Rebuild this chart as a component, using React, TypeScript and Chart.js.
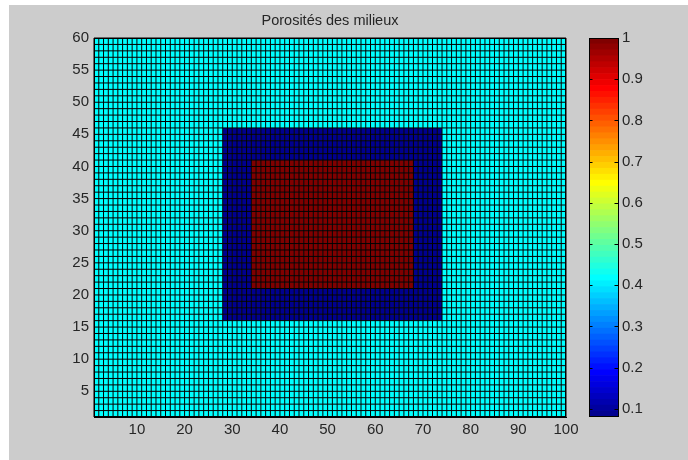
import React, { useEffect, useRef } from 'react';
import { Chart, registerables } from 'chart.js';

Chart.register(...registerables);

// ---------- data ----------
const TITLE = 'Porosités des milieux';
const X_MIN = 1;
const X_MAX = 100;
const Y_MIN = 1;
const Y_MAX = 60;
const xTicks = [10, 20, 30, 40, 50, 60, 70, 80, 90, 100];
const yTicks = [5, 10, 15, 20, 25, 30, 35, 40, 45, 50, 55, 60];

// rectangular zones (later zones overwrite earlier ones)
const zoneNames = ['milieu extérieur', 'couche', 'noyau'];
const zoneX0 = [1, 28, 34];
const zoneX1 = [100, 74, 68];
const zoneY0 = [1, 16, 21];
const zoneY1 = [60, 46, 41];
const zonePorosity = [0.42, 0.08, 1.0];

// colour axis
const C_MIN = 0.08;
const C_MAX = 1.0;
const colorTicks = [0.1, 0.2, 0.3, 0.4, 0.5, 0.6, 0.7, 0.8, 0.9, 1.0];
const N_COLORS = 64;

// ---------- helpers ----------
function jet(m: number): string[] {
  const n = Math.ceil(m / 4);
  const u: number[] = [];
  for (let k = 1; k <= n; k++) u.push(k / n);
  for (let k = 1; k <= n - 1; k++) u.push(1);
  for (let k = n; k >= 1; k--) u.push(k / n);
  const off = Math.ceil(n / 2) - (m % 4 === 1 ? 1 : 0);
  const rgb: number[][] = [];
  for (let i = 0; i < m; i++) rgb.push([0, 0, 0]);
  for (let k = 0; k < u.length; k++) {
    const g = off + k + 1;
    const r = g + n;
    const b = g - n;
    if (r >= 1 && r <= m) rgb[r - 1][0] = u[k];
    if (g >= 1 && g <= m) rgb[g - 1][1] = u[k];
    if (b >= 1 && b <= m) rgb[b - 1][2] = u[k];
  }
  return rgb.map(
    (c) => `rgb(${Math.round(c[0] * 255)},${Math.round(c[1] * 255)},${Math.round(c[2] * 255)})`
  );
}
const JET = jet(N_COLORS);

function colorFor(v: number): string {
  let idx = Math.floor(((v - C_MIN) / (C_MAX - C_MIN)) * N_COLORS);
  idx = Math.max(0, Math.min(N_COLORS - 1, idx));
  return JET[idx];
}

function cellValue(i: number, j: number): number {
  let v = zonePorosity[0];
  for (let z = 0; z < zoneNames.length; z++) {
    if (i >= zoneX0[z] && i < zoneX1[z] && j >= zoneY0[z] && j < zoneY1[z]) v = zonePorosity[z];
  }
  return v;
}

const FONT = "'Liberation Sans', Arial, Helvetica, sans-serif";
const TEXT = '#262626';

const heatmapPlugin = {
  id: 'heatmap',
  beforeDatasetsDraw(chart: any) {
    const { ctx, chartArea } = chart;
    const x = chart.scales.x;
    const y = chart.scales.y;
    ctx.save();
    for (let i = X_MIN; i < X_MAX; i++) {
      for (let j = Y_MIN; j < Y_MAX; j++) {
        const px0 = x.getPixelForValue(i);
        const px1 = x.getPixelForValue(i + 1);
        const py0 = y.getPixelForValue(j + 1);
        const py1 = y.getPixelForValue(j);
        ctx.fillStyle = colorFor(cellValue(i, j));
        ctx.fillRect(px0, py0, px1 - px0, py1 - py0);
      }
    }
    ctx.strokeStyle = '#000';
    ctx.lineWidth = 1;
    ctx.beginPath();
    for (let i = X_MIN; i <= X_MAX; i++) {
      const px = x.getPixelForValue(i);
      ctx.moveTo(px, chartArea.top);
      ctx.lineTo(px, chartArea.bottom);
    }
    for (let j = Y_MIN; j <= Y_MAX; j++) {
      const py = y.getPixelForValue(j);
      ctx.moveTo(chartArea.left, py);
      ctx.lineTo(chartArea.right, py);
    }
    ctx.stroke();
    ctx.strokeRect(
      Math.round(chartArea.left) + 0.5,
      Math.round(chartArea.top) + 0.5,
      Math.round(chartArea.right - chartArea.left) - 1,
      Math.round(chartArea.bottom - chartArea.top) - 1
    );
    ctx.restore();
  },
};

const colorbarPlugin = {
  id: 'colorbarFrame',
  afterDatasetsDraw(chart: any) {
    const { ctx, chartArea } = chart;
    const y = chart.scales.y;
    ctx.save();
    ctx.strokeStyle = '#000';
    ctx.lineWidth = 1;
    const l = Math.round(chartArea.left) + 0.5;
    const r = Math.round(chartArea.right) - 0.5;
    ctx.beginPath();
    for (const t of colorTicks) {
      const py = Math.round(y.getPixelForValue(t)) + 0.5;
      ctx.moveTo(l, py);
      ctx.lineTo(l + 3, py);
      ctx.moveTo(r, py);
      ctx.lineTo(r - 4, py);
    }
    ctx.stroke();
    ctx.strokeRect(l, Math.round(chartArea.top) + 0.5, r - l, Math.round(chartArea.bottom - chartArea.top) - 1);
    ctx.restore();
  },
};

export default function App() {
  const mainRef = useRef<HTMLCanvasElement | null>(null);
  const barRef = useRef<HTMLCanvasElement | null>(null);

  useEffect(() => {
    const main = new Chart(mainRef.current as HTMLCanvasElement, {
      type: 'scatter',
      data: { datasets: [{ data: [], pointRadius: 0 }] },
      plugins: [heatmapPlugin],
      options: {
        animation: false,
        responsive: false,
        maintainAspectRatio: false,
        events: [],
        layout: { padding: { left: 0, right: 122, top: 0, bottom: 0 } },
        plugins: {
          legend: { display: false },
          tooltip: { enabled: false },
          title: {
            display: true,
            text: TITLE,
            fullSize: false,
            color: TEXT,
            font: { family: FONT, size: 14.5, weight: 'normal' as any, lineHeight: 1.2 },
            padding: { top: 12, bottom: 8.6 },
          },
        },
        scales: {
          x: {
            type: 'linear',
            min: X_MIN,
            max: X_MAX,
            afterBuildTicks: (s: any) => {
              s.ticks = xTicks.map((v) => ({ value: v }));
            },
            afterFit: (s: any) => {
              s.height = 43;
            },
            grid: { display: false, drawTicks: false },
            border: { display: true, color: '#000' },
            ticks: { color: TEXT, font: { family: FONT, size: 15 }, padding: 4, maxRotation: 0, autoSkip: false },
          },
          y: {
            type: 'linear',
            min: Y_MIN,
            max: Y_MAX,
            afterBuildTicks: (s: any) => {
              s.ticks = yTicks.map((v) => ({ value: v }));
            },
            afterFit: (s: any) => {
              s.width = 94;
            },
            grid: { display: false, drawTicks: false },
            border: { display: true, color: '#000' },
            ticks: { color: TEXT, font: { family: FONT, size: 15 }, padding: 5, autoSkip: false },
          },
        },
      } as any,
    });

    const bands: number[][] = [];
    for (let k = 0; k < N_COLORS; k++) {
      const lo = C_MIN + ((C_MAX - C_MIN) * k) / N_COLORS;
      const hi = C_MIN + ((C_MAX - C_MIN) * (k + 1)) / N_COLORS;
      bands.push([lo, hi]);
    }

    const bar = new Chart(barRef.current as HTMLCanvasElement, {
      type: 'bar',
      data: {
        labels: [''],
        datasets: bands.map((b, k) => ({
          data: [b] as any,
          backgroundColor: JET[k],
          borderWidth: 0,
          grouped: false,
          barPercentage: 1,
          categoryPercentage: 1,
        })),
      },
      plugins: [colorbarPlugin],
      options: {
        animation: false,
        responsive: false,
        maintainAspectRatio: false,
        events: [],
        layout: { padding: { left: 589, right: 9, top: 38, bottom: 43 } },
        plugins: { legend: { display: false }, tooltip: { enabled: false }, title: { display: false } },
        scales: {
          x: { display: false },
          y: {
            position: 'right',
            type: 'linear',
            min: C_MIN,
            max: C_MAX,
            afterBuildTicks: (s: any) => {
              s.ticks = colorTicks.map((v) => ({ value: v }));
            },
            afterFit: (s: any) => {
              s.width = 60;
            },
            grid: { display: false, drawTicks: false },
            border: { display: false },
            ticks: {
              color: TEXT,
              font: { family: FONT, size: 15 },
              padding: 3,
              autoSkip: false,
              callback: (v: any) => String(Number(Number(v).toFixed(1))),
            },
          },
        },
      } as any,
    });

    return () => {
      main.destroy();
      bar.destroy();
    };
  }, []);

  return (
    <div style={{ position: 'fixed', left: 0, top: 0, width: 688, height: 460, background: '#ffffff' }}>
      <div style={{ position: 'absolute', left: 9, top: 5, right: 0, bottom: 0, background: '#cccccc' }} />
      <canvas
        ref={mainRef}
        width={688}
        height={460}
        style={{ position: 'absolute', left: 0, top: 0, width: 688, height: 460 }}
      />
      <canvas
        ref={barRef}
        width={688}
        height={460}
        style={{ position: 'absolute', left: 0, top: 0, width: 688, height: 460 }}
      />
    </div>
  );
}
